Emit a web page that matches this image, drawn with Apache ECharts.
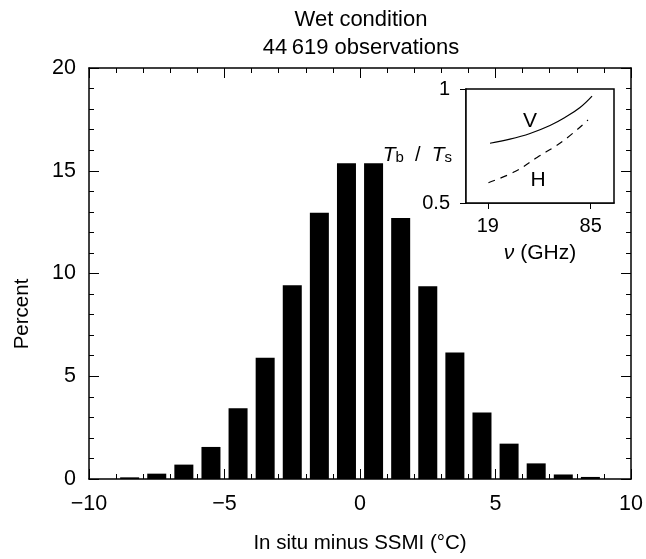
<!DOCTYPE html>
<html><head><meta charset="utf-8">
<script src="https://cdn.jsdelivr.net/npm/echarts@6/dist/echarts.min.js"></script>
<style>html,body{margin:0;padding:0;background:#fff}#c{width:646px;height:559px}</style>
</head><body><div id="c"></div>
<script>
// Main histogram
const binCenters = [-8.5,-7.5,-6.5,-5.5,-4.5,-3.5,-2.5,-1.5,-0.5,0.5,1.5,2.5,3.5,4.5,5.5,6.5,7.5,8.5];
const percents   = [0.08,0.26,0.70,1.56,3.44,5.90,9.43,12.96,15.37,15.37,12.70,9.38,6.15,3.23,1.72,0.76,0.22,0.10];
const xTickLabels = [-10,-5,0,5,10];
const yTickLabels = [0,5,10,15,20];
// Inset: Tb/Ts vs frequency (GHz)
const insetFreqV = [20.4,33.2,46.1,58.9,68.5,78.2,85.9];
const insetV     = [0.762,0.780,0.805,0.840,0.875,0.919,0.969];
const insetFreqH = [19.4,36.5,50.6,67.3,83.3];
const insetH     = [0.589,0.638,0.700,0.772,0.864];
const insetXTicks = [19,85];
const insetYTicks = [0.5,1];

const FONT = 'Liberation Sans';
const minus = v => String(v).replace('-', '\u2212');

const chart = echarts.init(document.getElementById('c'), null, {renderer:'canvas'});
const axLine = {show:true, onZero:false, lineStyle:{color:'#000', width:1.5}};
const tickIn = {show:true, inside:true, length:10, lineStyle:{color:'#000', width:1}};
const minorIn = {show:true, splitNumber:5, length:5, lineStyle:{color:'#000', width:1}};
const option = {
  animation:false,
  backgroundColor:'#fff',
  textStyle:{fontFamily:FONT, color:'#000'},
  grid:[
    {left:89, right:14, top:68, bottom:76, show:false},
    {left:466, top:89, width:148, height:114, show:true, borderColor:'#000', borderWidth:1.5, backgroundColor:'#fff', z:10}
  ],
  xAxis:[
    {gridIndex:0, type:'value', min:-10, max:10, interval:5, position:'bottom',
     axisLine:axLine, axisTick:tickIn, minorTick:minorIn,
     axisLabel:{fontSize:21.5, margin:14, color:'#000', fontFamily:FONT,
       customValues:xTickLabels, formatter:minus},
     splitLine:{show:false}, minorSplitLine:{show:false},
     name:'In situ minus SSMI (\u00B0C)', nameLocation:'middle', nameGap:54,
     nameTextStyle:{fontSize:20.5, color:'#000', fontFamily:FONT}},
    {gridIndex:0, type:'value', min:-10, max:10, interval:5, position:'top',
     axisLine:axLine, axisTick:tickIn, minorTick:minorIn,
     axisLabel:{show:false}, splitLine:{show:false}},
    {gridIndex:1, type:'value', min:5, max:100,
     axisLine:{show:true, onZero:false, lineStyle:{color:'#000', width:1.5}},
     axisTick:{show:true, inside:false, length:6, customValues:insetXTicks, lineStyle:{color:'#000'}},
     axisLabel:{fontSize:20, margin:13, color:'#000', fontFamily:FONT, customValues:insetXTicks},
     splitLine:{show:false},
     name:'{g|\u03BD} (GHz)', nameLocation:'middle', nameGap:40,
     nameTextStyle:{fontSize:21, color:'#000', fontFamily:FONT,
       rich:{g:{fontSize:21, fontStyle:'italic', fontFamily:FONT}}}}
  ],
  yAxis:[
    {gridIndex:0, type:'value', min:0, max:20, interval:5, position:'left',
     axisLine:axLine, axisTick:tickIn, minorTick:minorIn,
     axisLabel:{fontSize:21.5, margin:13, color:'#000', fontFamily:FONT, customValues:yTickLabels},
     splitLine:{show:false}},
    {gridIndex:0, type:'value', min:0, max:20, interval:5, position:'right',
     axisLine:axLine, axisTick:tickIn, minorTick:minorIn,
     axisLabel:{show:false}, splitLine:{show:false}},
    {gridIndex:1, type:'value', min:0.5, max:1, interval:0.5,
     axisLine:{show:true, onZero:false, lineStyle:{color:'#000', width:1.5}},
     axisTick:{show:true, inside:false, length:6, lineStyle:{color:'#000'}},
     axisLabel:{fontSize:20, margin:16, color:'#000', fontFamily:FONT, customValues:insetYTicks},
     splitLine:{show:false}}
  ],
  series:[
    {type:'bar', xAxisIndex:0, yAxisIndex:0, barWidth:19,
     itemStyle:{color:'#000'},
     data:binCenters.map((c,i)=>[c, percents[i]])},
    {type:'line', xAxisIndex:2, yAxisIndex:2, smooth:0.4, symbol:'none', z:20,
     lineStyle:{color:'#000', width:1.2},
     data:insetFreqV.map((f,i)=>[f, insetV[i]])},
    {type:'line', xAxisIndex:2, yAxisIndex:2, smooth:0.4, symbol:'none', z:20,
     lineStyle:{color:'#000', width:1.2, type:[7,6]},
     data:insetFreqH.map((f,i)=>[f, insetH[i]])}
  ],
  graphic:[
    {type:'text', x:361, y:20, z:30, style:{text:'Wet condition', fontSize:22, fontFamily:FONT, fill:'#000', align:'center', verticalAlign:'middle'}},
    {type:'text', x:361, y:48, z:30, style:{text:'44\u2009619 observations', fontSize:22, fontFamily:FONT, fill:'#000', align:'center', verticalAlign:'middle'}},
    {type:'text', x:22, y:314, rotation:Math.PI/2, z:30, style:{text:'Percent', fontSize:20.5, fontFamily:FONT, fill:'#000', align:'center', verticalAlign:'middle'}},
    {type:'text', x:530, y:121, z:30, style:{text:'V', fontSize:21, fontFamily:FONT, fill:'#000', align:'center', verticalAlign:'middle'}},
    {type:'text', x:538, y:180, z:30, style:{text:'H', fontSize:21, fontFamily:FONT, fill:'#000', align:'center', verticalAlign:'middle'}},
    {type:'text', x:452, y:155, z:30, style:{
      text:'{t|T}{s|b}{n|  /  }{t|T}{s|s}', align:'right', verticalAlign:'middle', fontFamily:FONT, fill:'#000',
      rich:{t:{fontSize:21, fontStyle:'italic', fontFamily:FONT, verticalAlign:'bottom', fill:'#000'},
            s:{fontSize:15, fontFamily:FONT, verticalAlign:'bottom', padding:[5,0,0,0], fill:'#000'},
            n:{fontSize:20, fontFamily:FONT, verticalAlign:'bottom', fill:'#000'}}}}
  ]
};
chart.setOption(option);
</script>
</body></html>
